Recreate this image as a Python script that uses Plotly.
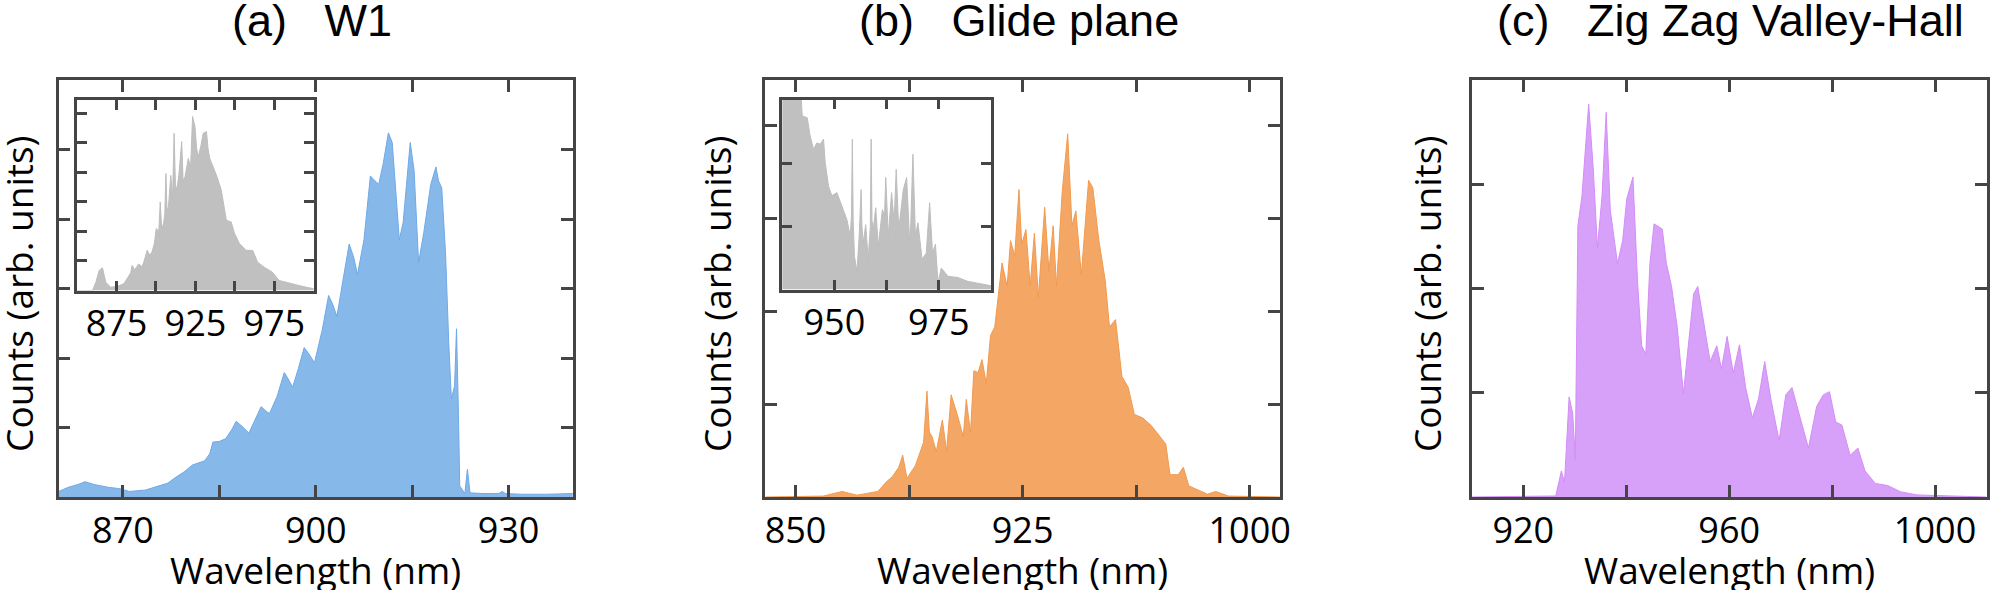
import plotly.graph_objects as go

# ---------------- data ----------------
# (a) W1 main spectrum
a_wl = [860.0, 861.5, 863.0, 864.1, 865.5, 867.7, 869.5, 871.0, 873.5, 875.5, 877.0, 878.0, 879.5, 880.8,
        882.0, 882.7, 883.5, 884.0, 885.0, 886.0, 887.0, 887.6, 888.5, 889.6, 890.5, 891.5, 892.2, 892.8,
        894.0, 895.1, 895.7, 896.4, 897.3, 898.2, 899.0, 899.8, 901.0, 902.0, 902.6, 903.3, 904.2, 905.2,
        905.9, 906.5, 907.5, 908.5, 909.2, 909.8, 910.5, 911.3, 911.9, 912.4, 913.0, 913.6, 914.2, 914.7,
        915.3, 916.0, 916.8, 917.9, 918.7, 919.1, 919.6, 920.2, 920.7, 921.1, 921.6, 921.9, 922.2, 922.4,
        923.2, 923.6, 924.0, 926.0, 928.5, 929.0, 929.5, 932.0, 936.0, 940.0]
a_ct = [0.08, 0.14, 0.18, 0.22, 0.18, 0.14, 0.12, 0.08, 0.10, 0.16, 0.20, 0.27, 0.36, 0.46,
        0.50, 0.52, 0.62, 0.79, 0.80, 0.84, 0.98, 1.09, 1.02, 0.92, 1.10, 1.30, 1.24, 1.20,
        1.45, 1.79, 1.70, 1.58, 1.85, 2.15, 2.05, 1.93, 2.40, 2.90, 2.78, 2.60, 3.10, 3.64,
        3.45, 3.20, 3.70, 4.62, 4.55, 4.50, 4.80, 5.24, 5.10, 4.40, 3.70, 3.95, 4.60, 5.10,
        4.70, 3.37, 3.80, 4.50, 4.75, 4.55, 4.45, 3.50, 2.20, 1.41, 1.60, 2.42, 1.20, 0.16,
        0.05, 0.40, 0.06, 0.05, 0.05, 0.08, 0.05, 0.04, 0.04, 0.05]

# (a) inset (gray)
ai_wl = [850.0, 859.8, 861.9, 864.0, 866.1, 868.2, 871.3, 875.5, 879.7, 881.8, 884.0, 884.9, 886.5, 889.1,
         891.0, 892.3, 894.4, 896.0, 897.5, 899.0, 900.2, 901.8, 902.7, 903.6, 904.8, 905.6, 906.3, 907.0,
         907.9, 909.4, 910.5, 911.5, 912.3, 913.2, 914.5, 916.3, 917.2, 918.4, 920.5, 922.0, 923.2, 924.7,
         925.8, 926.8, 928.5, 929.9, 932.0, 933.0, 934.1, 936.2, 938.7, 941.4, 944.6, 947.7, 949.8, 952.9,
         957.1, 961.3, 964.4, 968.6, 973.8, 978.0, 982.2, 986.4, 992.7, 1000.0]
ai_ct = [0.00, 0.00, 0.28, 0.68, 0.77, 0.28, 0.11, 0.14, 0.23, 0.40, 0.60, 0.85, 0.70, 0.90,
         0.80, 0.96, 1.36, 1.20, 1.30, 1.60, 2.10, 2.00, 3.00, 2.10, 2.26, 2.60, 3.96, 2.70,
         2.83, 3.90, 3.10, 5.32, 3.60, 3.40, 3.90, 5.04, 3.70, 3.85, 4.47, 4.20, 5.89, 5.55,
         4.80, 4.53, 4.90, 5.32, 5.38, 4.80, 4.47, 4.19, 3.85, 3.40, 2.38, 2.32, 1.93, 1.59,
         1.36, 1.36, 0.96, 0.79, 0.62, 0.34, 0.28, 0.23, 0.14, 0.06]

# (b) Glide plane main spectrum
b_wl = [840.0, 859.2, 865.4, 870.3, 877.2, 879.9, 882.0, 884.1, 885.4, 886.8, 889.6, 892.3, 893.4, 894.2,
        895.1, 896.5, 898.5, 899.9, 901.4, 903.4, 905.4, 906.4, 907.8, 908.9, 910.3, 911.6, 913.0, 914.4,
        915.8, 917.1, 918.2, 919.9, 921.0, 922.4, 923.8, 924.7, 926.1, 927.5, 928.9, 930.2, 932.3, 933.7,
        935.1, 936.2, 938.1, 939.9, 941.3, 942.6, 944.4, 946.8, 948.2, 950.2, 952.3, 953.7, 955.7, 957.8,
        959.9, 961.9, 964.7, 967.5, 969.5, 972.3, 973.7, 976.4, 978.1, 979.9, 982.6, 986.1, 988.8, 993.0,
        1010.0]
b_ct = [0.00, 0.01, 0.06, 0.02, 0.06, 0.16, 0.22, 0.32, 0.45, 0.20, 0.34, 0.59, 1.14, 0.70,
        0.65, 0.49, 0.83, 0.49, 1.10, 0.89, 0.65, 1.05, 0.69, 1.36, 1.34, 1.48, 1.22, 1.74,
        1.83, 2.19, 2.52, 2.27, 2.76, 2.60, 3.31, 2.72, 2.88, 2.27, 2.84, 2.15, 3.12, 2.43,
        2.92, 2.27, 3.29, 3.91, 2.92, 3.08, 2.39, 3.41, 3.33, 2.76, 2.33, 1.83, 1.91, 1.30,
        1.18, 0.89, 0.85, 0.77, 0.69, 0.57, 0.24, 0.24, 0.32, 0.12, 0.08, 0.03, 0.06, 0.01,
        0.00]

# (b) inset (gray)
bi_wl = [937.5, 942.0, 942.3, 943.5, 944.2, 945.0, 945.8, 946.6, 947.4, 947.8, 948.6, 949.4, 950.6, 951.8,
         953.0, 953.8, 954.1, 954.3, 954.5, 954.8, 955.4, 955.9, 956.2, 956.4, 956.6, 956.9, 957.5, 958.1,
         958.6, 958.8, 959.0, 959.3, 959.9, 960.5, 961.5, 962.0, 962.3, 962.9, 963.7, 964.3, 964.8, 965.4,
         966.5, 967.3, 968.1, 968.8, 969.4, 970.0, 971.0, 972.0, 972.8, 973.5, 974.2, 974.8, 975.6, 977.2,
         979.6, 981.9, 984.3, 987.5]
bi_ct = [3.10, 3.10, 2.76, 2.73, 2.44, 2.23, 2.33, 2.31, 2.39, 2.02, 1.64, 1.49, 1.54, 1.33,
         1.11, 0.85, 1.20, 2.39, 1.10, 0.53, 0.29, 0.80, 1.20, 1.59, 1.00, 0.74, 1.03, 0.48,
         1.00, 2.39, 1.10, 0.95, 1.30, 0.69, 1.27, 1.17, 1.78, 0.85, 1.54, 1.06, 1.91, 0.95,
         1.59, 1.78, 0.64, 2.15, 0.85, 1.06, 0.48, 0.58, 1.38, 0.58, 0.72, 0.11, 0.34, 0.21,
         0.19, 0.13, 0.10, 0.06]

# (c) Zig Zag Valley-Hall main spectrum
c_wl = [910.0, 926.3, 927.4, 928.0, 928.9, 929.6, 930.1, 930.6, 931.4, 932.0, 932.7, 933.6, 934.4, 935.3,
        936.1, 936.9, 938.3, 939.3, 940.1, 941.3, 942.2, 943.0, 943.8, 944.6, 945.4, 947.0, 947.8, 948.8,
        949.9, 951.1, 952.3, 953.1, 953.9, 955.1, 956.3, 957.6, 958.5, 959.6, 960.8, 962.0, 963.2, 964.5,
        965.7, 966.9, 968.1, 969.7, 971.0, 972.2, 973.8, 975.4, 977.0, 978.3, 979.5, 980.7, 981.9, 983.5,
        985.0, 986.4, 988.4, 990.8, 993.3, 996.5, 1010.0]
c_ct = [0.00, 0.01, 0.25, 0.14, 0.96, 0.80, 0.36, 2.60, 2.89, 3.32, 3.77, 3.14, 2.39, 2.89,
        3.69, 2.75, 2.24, 2.46, 2.86, 3.07, 2.06, 1.45, 1.37, 2.24, 2.62, 2.57, 2.24, 2.02,
        1.63, 0.99, 1.59, 1.95, 2.02, 1.66, 1.30, 1.45, 1.23, 1.54, 1.19, 1.46, 1.05, 0.76,
        0.94, 1.30, 0.94, 0.54, 0.98, 1.05, 0.76, 0.47, 0.87, 0.98, 1.01, 0.72, 0.69, 0.40,
        0.47, 0.25, 0.13, 0.11, 0.05, 0.02, 0.00]

titles = ["(a)\u00a0\u00a0\u00a0W1", "(b)\u00a0\u00a0\u00a0Glide plane", "(c)\u00a0\u00a0\u00a0Zig Zag Valley-Hall"]
x_label = "Wavelength (nm)"
y_label = "Counts (arb. units)"

a_ticks = [870, 885, 900, 915, 930]
a_text = ["870", "", "900", "", "930"]
ai_ticks = [875, 900, 925, 950, 975]
ai_text = ["875", "", "925", "", "975"]
b_ticks = [850, 887.5, 925, 962.5, 1000]
b_text = ["850", "", "925", "", "1000"]
bi_ticks = [950, 962.5, 975]
bi_text = ["950", "", "975"]
c_ticks = [920, 940, 960, 980, 1000]
c_text = ["920", "", "960", "", "1000"]

# ---------------- figure ----------------
W, H = 1999, 590
AX = "#454545"
TICKFONT = dict(family="Open Sans", size=36, color="black")


def px_x(p):
    return p / W


def px_y(p):
    return 1 - p / H


def xax(dom, rng, tv, tt, anchor, ticklen=12):
    return dict(domain=dom, range=rng, anchor=anchor, tickvals=tv, ticktext=tt,
                ticks="inside", ticklen=ticklen, tickwidth=2.5, tickcolor=AX,
                showline=True, linecolor=AX, linewidth=2.5, mirror="allticks",
                showgrid=False, zeroline=False, tickfont=TICKFONT)


def yax(dom, rng, tv, anchor, ticklen=12):
    return dict(domain=dom, range=rng, anchor=anchor, tickvals=tv,
                ticks="inside", ticklen=ticklen, tickwidth=2.5, tickcolor=AX,
                showline=True, linecolor=AX, linewidth=2.5, mirror="allticks",
                showgrid=False, zeroline=False, showticklabels=False)


fig = go.Figure()

fig.add_trace(go.Scatter(x=a_wl, y=a_ct, mode="lines", fill="tozeroy",
                         line=dict(color="#6fa9e6", width=1), fillcolor="#86b9ea",
                         xaxis="x", yaxis="y", showlegend=False))
fig.add_trace(go.Scatter(x=ai_wl, y=ai_ct, mode="lines", fill="tozeroy",
                         line=dict(color="#bdbdbd", width=1), fillcolor="#c0c0c0",
                         xaxis="x2", yaxis="y2", showlegend=False))
fig.add_trace(go.Scatter(x=b_wl, y=b_ct, mode="lines", fill="tozeroy",
                         line=dict(color="#f19a4e", width=1), fillcolor="#f4a765",
                         xaxis="x3", yaxis="y3", showlegend=False))
fig.add_trace(go.Scatter(x=bi_wl, y=bi_ct, mode="lines", fill="tozeroy",
                         line=dict(color="#bdbdbd", width=1), fillcolor="#c0c0c0",
                         xaxis="x4", yaxis="y4", showlegend=False))
fig.add_trace(go.Scatter(x=c_wl, y=c_ct, mode="lines", fill="tozeroy",
                         line=dict(color="#d58cf7", width=1), fillcolor="#d7a1f9",
                         xaxis="x5", yaxis="y5", showlegend=False))

ydom = [px_y(497), px_y(80)]
a_dom = [px_x(59), px_x(576)]
b_dom = [px_x(769.5), px_x(1287)]
c_dom = [px_x(1480), px_x(1997.5)]
ai_xdom = [px_x(77.5), px_x(315.5)]
ai_ydom = [px_y(290.5), px_y(100)]
bi_xdom = [px_x(786.5), px_x(996.5)]
bi_ydom = [px_y(289.5), px_y(99.5)]

fig.update_layout(
    width=W, height=H,
    margin=dict(l=0, r=0, t=0, b=0),
    paper_bgcolor="white", plot_bgcolor="rgba(0,0,0,0)",
    xaxis=xax(a_dom, [860, 940], a_ticks, a_text, "y"),
    yaxis=yax(ydom, [0, 6], [1, 2, 3, 4, 5], "x"),
    xaxis2=xax(ai_xdom, [850, 1000], ai_ticks, ai_text, "y2", ticklen=10),
    yaxis2=yax(ai_ydom, [0, 6.45], [1, 2, 3, 4, 5, 6], "x2", ticklen=10),
    xaxis3=xax(b_dom, [840, 1010], b_ticks, b_text, "y3"),
    yaxis3=yax(ydom, [0, 4.49], [1, 2, 3, 4], "x3"),
    xaxis4=xax(bi_xdom, [937.5, 987.5], bi_ticks, bi_text, "y4", ticklen=10),
    yaxis4=yax(bi_ydom, [0, 3.02], [1, 2], "x4", ticklen=10),
    xaxis5=xax(c_dom, [910, 1010], c_ticks, c_text, "y5"),
    yaxis5=yax(ydom, [0, 4.0], [1, 2, 3], "x5"),
)

ann = []
centers = [317.5, 1028, 1739]
title_x = [313.5, 1025, 1740]
ylab_x = [18, 720, 1434]
for i in range(3):
    ann.append(dict(text=titles[i], x=px_x(title_x[i]), y=px_y(21), xref="paper", yref="paper",
                    xanchor="center", yanchor="middle", showarrow=False,
                    font=dict(family="Liberation Sans", size=45, color="black")))
    ann.append(dict(text=x_label, x=px_x(centers[i]), y=px_y(569), xref="paper", yref="paper",
                    xanchor="center", yanchor="middle", showarrow=False,
                    font=dict(family="Open Sans", size=37, color="black")))
    ann.append(dict(text=y_label, x=px_x(ylab_x[i]), y=px_y(294), xref="paper", yref="paper",
                    xanchor="center", yanchor="middle", textangle=-90, showarrow=False,
                    font=dict(family="Open Sans", size=37, color="black")))
fig.update_layout(annotations=ann)

fig.write_html("out.html", config={"displayModeBar": False},
               post_script="document.body.style.margin='0';document.body.style.padding='0';"
                           "document.documentElement.style.overflow='hidden';")
